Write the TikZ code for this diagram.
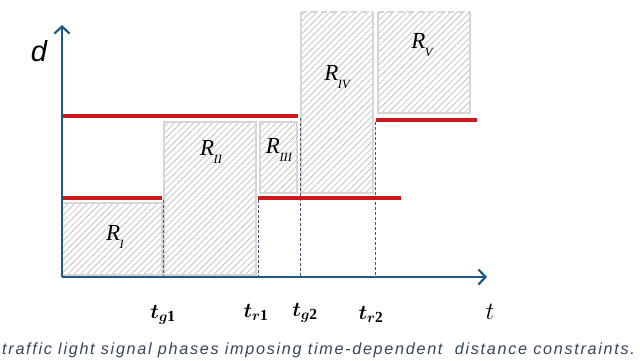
\documentclass[tikz,border=0pt]{standalone}
\usepackage{amsmath}
\usepackage{fontspec}
\setmainfont{Liberation Serif}
\newfontfamily\capfont[LetterSpace=10.5]{Liberation Sans}
\newfontfamily\sansfam{Liberation Sans}
\usetikzlibrary{arrows.meta,patterns.meta}
\definecolor{axisblue}{HTML}{1F5A82}
\definecolor{sigred}{HTML}{D0161B}
\definecolor{boxgray}{HTML}{D6D6D6}
\definecolor{hatchgray}{HTML}{C4C4C4}
\definecolor{capcol}{HTML}{34465A}
\definecolor{dashblue}{HTML}{3C5670}
\newcommand{\Rlab}[1]{\itshape R\kern-0.02em\raisebox{-0.32em}{\fontsize{12.5}{12.5}\selectfont #1}}
\begin{document}
\begin{tikzpicture}[x=1pt,y=-1pt,
  axis/.style={draw=axisblue,line width=2.6pt,-{Straight Barb[length=7pt,width=15pt,line width=2.2pt]}},
  hatch/.style={pattern={Lines[angle=45,distance=4.5pt,line width=0.8pt]},pattern color=hatchgray},
  boxline/.style={draw=boxgray,line width=2.2pt},
  topdash/.style={draw=boxgray,line width=2.2pt,dash pattern=on 6pt off 4pt},
  redline/.style={draw=sigred,line width=4.5pt},
  phaseline/.style={draw=dashblue,line width=0.8pt,dash pattern=on 3pt off 2pt},
  rlabel/.style={font=\fontsize{23}{23}\selectfont,inner sep=0pt},
  tlabel/.style={font=\fontsize{22}{22}\selectfont,inner sep=0pt}
]
\useasboundingbox (0,0) rectangle (640,361);
% coordinates
\coordinate (O) at (62,277);
\coordinate (ytip) at (62,25);
\coordinate (xtip) at (487,277);
% hatched regions
\fill[hatch] (62,203) rectangle (162,275);
\fill[hatch] (164,122) rectangle (256,275);
\fill[hatch] (260,122) rectangle (297,193);
\fill[hatch] (301,12) rectangle (373,193);
\fill[hatch] (378,12) rectangle (470,113);
% borders
\draw[boxline] (62,203) rectangle (162,275);
\draw[boxline] (164,122) rectangle (256,275);
\draw[boxline] (260,122) rectangle (297,193);
\draw[boxline] (301,12) -- (301,193) -- (373,193) -- (373,12);
\draw[topdash] (301,12) -- (373,12);
\draw[boxline] (378,12) -- (378,113) -- (470,113) -- (470,12);
\draw[topdash] (378,12) -- (470,12);
% region labels
\node[rlabel] (r1) at (115,237) {\Rlab{I}};
\node[rlabel] (r2) at (211,152) {\Rlab{II}};
\node[rlabel] (r3) at (279,150) {\Rlab{III}};
\node[rlabel] (r4) at (337,77) {\Rlab{IV}};
\node[rlabel] (r5) at (422,45) {\Rlab{V}};
% phase boundaries
\coordinate (g1top) at (163,200); \coordinate (g1bot) at (163,276);
\coordinate (r1top) at (258,200); \coordinate (r1bot) at (258,276);
\coordinate (g2top) at (300,118); \coordinate (g2bot) at (300,276);
\coordinate (r2top) at (375,122); \coordinate (r2bot) at (375,276);
\draw[phaseline] (g1top) -- (g1bot);
\draw[phaseline] (r1top) -- (r1bot);
\draw[phaseline] (g2top) -- (g2bot);
\draw[phaseline] (r2top) -- (r2bot);
% red constraint lines
\coordinate (a1) at (62,116); \coordinate (a2) at (298,116);
\coordinate (b1) at (62,198); \coordinate (b2) at (162,198);
\coordinate (c1) at (258,198); \coordinate (c2) at (401,198);
\coordinate (e1) at (376,120); \coordinate (e2) at (477,120);
\draw[redline] (a1) -- (a2);
\draw[redline] (b1) -- (b2);
\draw[redline] (c1) -- (c2);
\draw[redline] (e1) -- (e2);
% axes
\draw[axis] (O) -- (ytip);
\draw[axis] (O) -- (xtip);
\node[font=\sansfam\itshape\fontsize{29}{29}\selectfont,inner sep=0pt] (dlab) at (39,51) {d};
\node[font=\fontsize{32}{32}\selectfont,inner sep=0pt] (tlab) at (490,312) {$t$};
% time labels
\node[tlabel] (tg1) at (163,315) {$\boldsymbol{t}_{\boldsymbol{g}\mathbf{1}}$};
\node[tlabel] (tr1) at (256,312) {$\boldsymbol{t}_{\boldsymbol{r}\mathbf{1}}$};
\node[tlabel] (tg2) at (305,313) {$\boldsymbol{t}_{\boldsymbol{g}\mathbf{2}}$};
\node[tlabel] (tr2) at (371,314) {$\boldsymbol{t}_{\boldsymbol{r}\mathbf{2}}$};
% caption
\node[anchor=base west,inner sep=0pt,text=capcol,font=\capfont\itshape\fontsize{16.2}{16.2}\selectfont] (cap) at (2,354) {traffic light signal phases imposing time-dependent\ \ distance constraints.};
\end{tikzpicture}
\end{document}
